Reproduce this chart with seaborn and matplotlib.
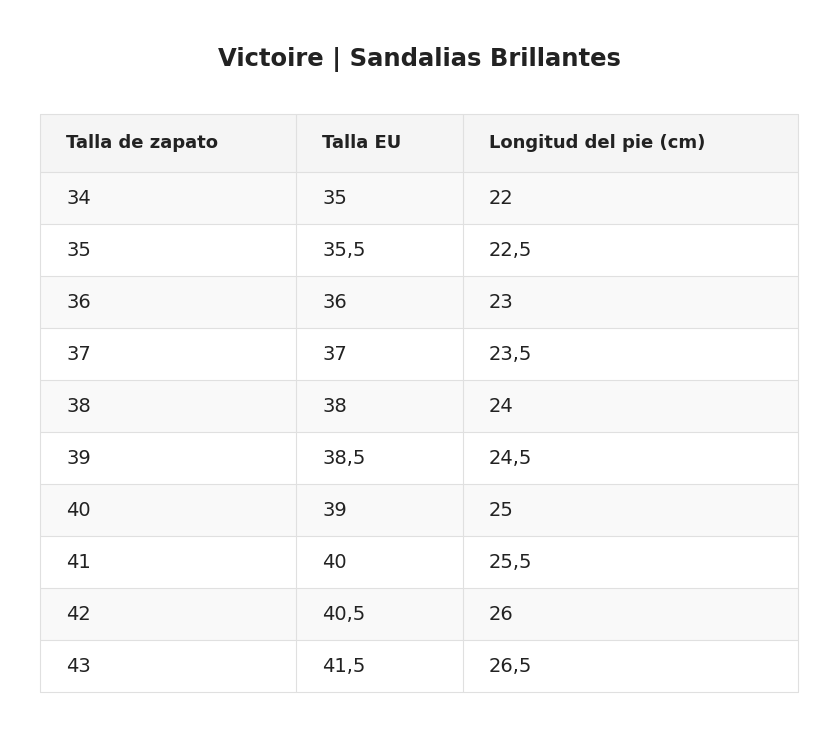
import matplotlib
matplotlib.use("Agg")
import matplotlib.pyplot as plt
import seaborn as sns
from matplotlib.patches import Rectangle

title = "Victoire | Sandalias Brillantes"
headers = ["Talla de zapato", "Talla EU", "Longitud del pie (cm)"]
talla_zapato = ["34", "35", "36", "37", "38", "39", "40", "41", "42", "43"]
talla_eu = ["35", "35,5", "36", "37", "38", "38,5", "39", "40", "40,5", "41,5"]
longitud = ["22", "22,5", "23", "23,5", "24", "24,5", "25", "25,5", "26", "26,5"]

sns.set_theme(style="white")
plt.rcParams['font.family'] = ['DejaVu Sans']
F = "DejaVu Sans"

W, H = 838, 732
fig = plt.figure(figsize=(W / 100, H / 100), dpi=100)
ax = fig.add_axes([0, 0, 1, 1])
ax.set_xlim(0, W)
ax.set_ylim(H, 0)
ax.axis("off")

col_x = [40, 296, 463, 798]
top, head_h, row_h = 114, 58, 52
line = "#e0e0e0"
txt = "#222222"

ax.text(W / 2, 59, title, ha="center", va="center", fontsize=17.5, fontweight="bold", color=txt, family=F)

ax.add_patch(Rectangle((col_x[0], top), col_x[-1] - col_x[0], head_h, facecolor="#f5f5f5", edgecolor="none"))
for j, h in enumerate(headers):
    ax.text(col_x[j] + 26, top + head_h / 2, h, ha="left", va="center", fontsize=13, fontweight="bold", color=txt, family=F)

cols = [talla_zapato, talla_eu, longitud]
for i in range(len(talla_zapato)):
    y0 = top + head_h + i * row_h
    fc = "#f9f9f9" if i % 2 == 0 else "white"
    ax.add_patch(Rectangle((col_x[0], y0), col_x[-1] - col_x[0], row_h, facecolor=fc, edgecolor="none"))
    for j, c in enumerate(cols):
        ax.text(col_x[j] + 26, y0 + row_h / 2, c[i], ha="left", va="center", fontsize=14, color=txt, family=F)

bottom = top + head_h + len(talla_zapato) * row_h
ys = [top, top + head_h] + [top + head_h + (i + 1) * row_h for i in range(len(talla_zapato))]
for y in ys:
    ax.plot([col_x[0], col_x[-1]], [y, y], color=line, lw=0.8)
for x in col_x:
    ax.plot([x, x], [top, bottom], color=line, lw=0.8)

fig.savefig("out.png", dpi=100, facecolor="white")
